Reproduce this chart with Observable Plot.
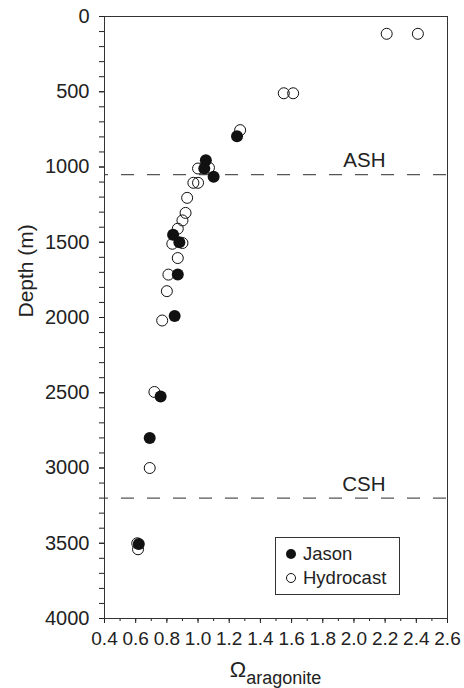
<!DOCTYPE html>
<html><head><meta charset="utf-8">
<script src="https://cdn.jsdelivr.net/npm/d3@7"></script>
<script src="https://cdn.jsdelivr.net/npm/@observablehq/plot@0.6"></script>
<style>
body{margin:0;background:#fff;font-family:"Liberation Sans",Arial,Helvetica,sans-serif;}
#wrap{position:relative;width:464px;height:688px;}
#legend{position:absolute;left:275px;top:537px;width:125px;height:58px;border:1px solid #333;box-sizing:border-box;font-size:18.5px;color:#222;padding-top:4px;}
#legend .item{display:flex;align-items:center;height:24px;}
#legend svg{margin-left:9px;margin-right:6px;}
</style></head><body><div id="wrap"></div>
<script>
// Data
const jasonOmega = [1.25, 1.05, 1.04, 1.10, 0.84, 0.88, 0.87, 0.85, 0.76, 0.69, 0.62];
const jasonDepth = [795, 955, 1010, 1065, 1450, 1500, 1715, 1990, 2525, 2800, 3505];
const hydroOmega = [2.21, 2.41, 1.55, 1.61, 1.27, 1.00, 1.07, 0.97, 1.00, 0.93, 0.92, 0.90, 0.87, 0.835, 0.90, 0.87, 0.81, 0.80, 0.77, 0.72, 0.69, 0.61, 0.615];
const hydroDepth = [115, 115, 510, 510, 755, 1010, 1005, 1105, 1105, 1205, 1305, 1355, 1410, 1510, 1505, 1605, 1715, 1825, 2020, 2495, 3000, 3500, 3540];
const horizonNames = ["ASH", "CSH"];
const horizonDepths = [1050, 3200];
const xTicks = [0.4, 0.6, 0.8, 1.0, 1.2, 1.4, 1.6, 1.8, 2.0, 2.2, 2.4, 2.6];
const yTicks = [0, 500, 1000, 1500, 2000, 2500, 3000, 3500, 4000];
const seriesNames = ["Jason", "Hydrocast"];

const jason = jasonOmega.map((v, i) => ({omega: v, depth: jasonDepth[i]}));
const hydro = hydroOmega.map((v, i) => ({omega: v, depth: hydroDepth[i]}));
const horizons = horizonNames.map((n, i) => ({name: n, depth: horizonDepths[i]}));
const xMinor = d3.range(4, 27).map(d => d / 10);
const yMinor = d3.range(0, 4001, 100);
const ink = "#222";
const font = '"Liberation Sans", Arial, Helvetica, sans-serif';

const chart = Plot.plot({
  width: 464, height: 688,
  marginLeft: 104, marginRight: 17, marginTop: 16, marginBottom: 70,
  style: {fontFamily: font, fontSize: "18px", color: ink, background: "white"},
  x: {domain: [0.4, 2.6]},
  y: {domain: [0, 4000], reverse: true},
  marks: [
    Plot.axisX({ticks: xMinor, tickSize: 3, tickFormat: () => "", label: null, stroke: ink}),
    Plot.axisX({ticks: xTicks, tickSize: 5, tickPadding: 8, tickFormat: d3.format(".1f"), label: null, stroke: ink, fontSize: 19, fill: ink}),
    Plot.axisY({ticks: yMinor, tickSize: 5, tickFormat: () => "", label: null, stroke: ink}),
    Plot.axisY({ticks: yTicks, tickSize: 5, tickPadding: 10, tickFormat: d3.format("d"), label: null, stroke: ink, fontSize: 20, fill: ink}),
    Plot.text(["Depth (m)"], {frameAnchor: "left", dx: -78, rotate: -90, fontSize: 21, fill: ink}),
    Plot.ruleY(horizons, {y: "depth", stroke: "#555", strokeWidth: 1.2, strokeDasharray: "13,13", strokeDashoffset: 9}),
    Plot.text(horizons, {y: "depth", text: "name", frameAnchor: "right", dx: -62, dy: -14, textAnchor: "end", fontSize: 20.5, fill: ink}),
    Plot.dot(hydro, {x: "omega", y: "depth", r: 5.5, stroke: "#111", strokeWidth: 1, fill: "none"}),
    Plot.dot(jason, {x: "omega", y: "depth", r: 6, fill: "#111", stroke: "none"}),
    Plot.frame({stroke: "#333"})
  ]
});

// x-axis title with subscript
const xs = chart.scale("x");
const cx = (xs.range[0] + xs.range[1]) / 2;
const t = d3.select(chart).append("text")
  .attr("x", cx).attr("y", 677).attr("text-anchor", "middle").attr("fill", ink)
  .style("font-family", font);
t.append("tspan").attr("font-size", 22).text("Ω");
t.append("tspan").attr("font-size", 18).attr("dy", 7).text("aragonite");

const wrap = document.getElementById("wrap");
wrap.appendChild(chart);

// Legend
const legend = document.createElement("div");
legend.id = "legend";
const sym = [
  '<svg width="12" height="12"><circle cx="6" cy="6" r="5" fill="#111"/></svg>',
  '<svg width="12" height="12"><circle cx="6" cy="6" r="4.5" fill="none" stroke="#111" stroke-width="1"/></svg>'
];
seriesNames.forEach((n, i) => {
  const d = document.createElement("div");
  d.className = "item";
  d.innerHTML = sym[i] + "<span>" + n + "</span>";
  legend.appendChild(d);
});
wrap.appendChild(legend);
</script>
</body></html>
